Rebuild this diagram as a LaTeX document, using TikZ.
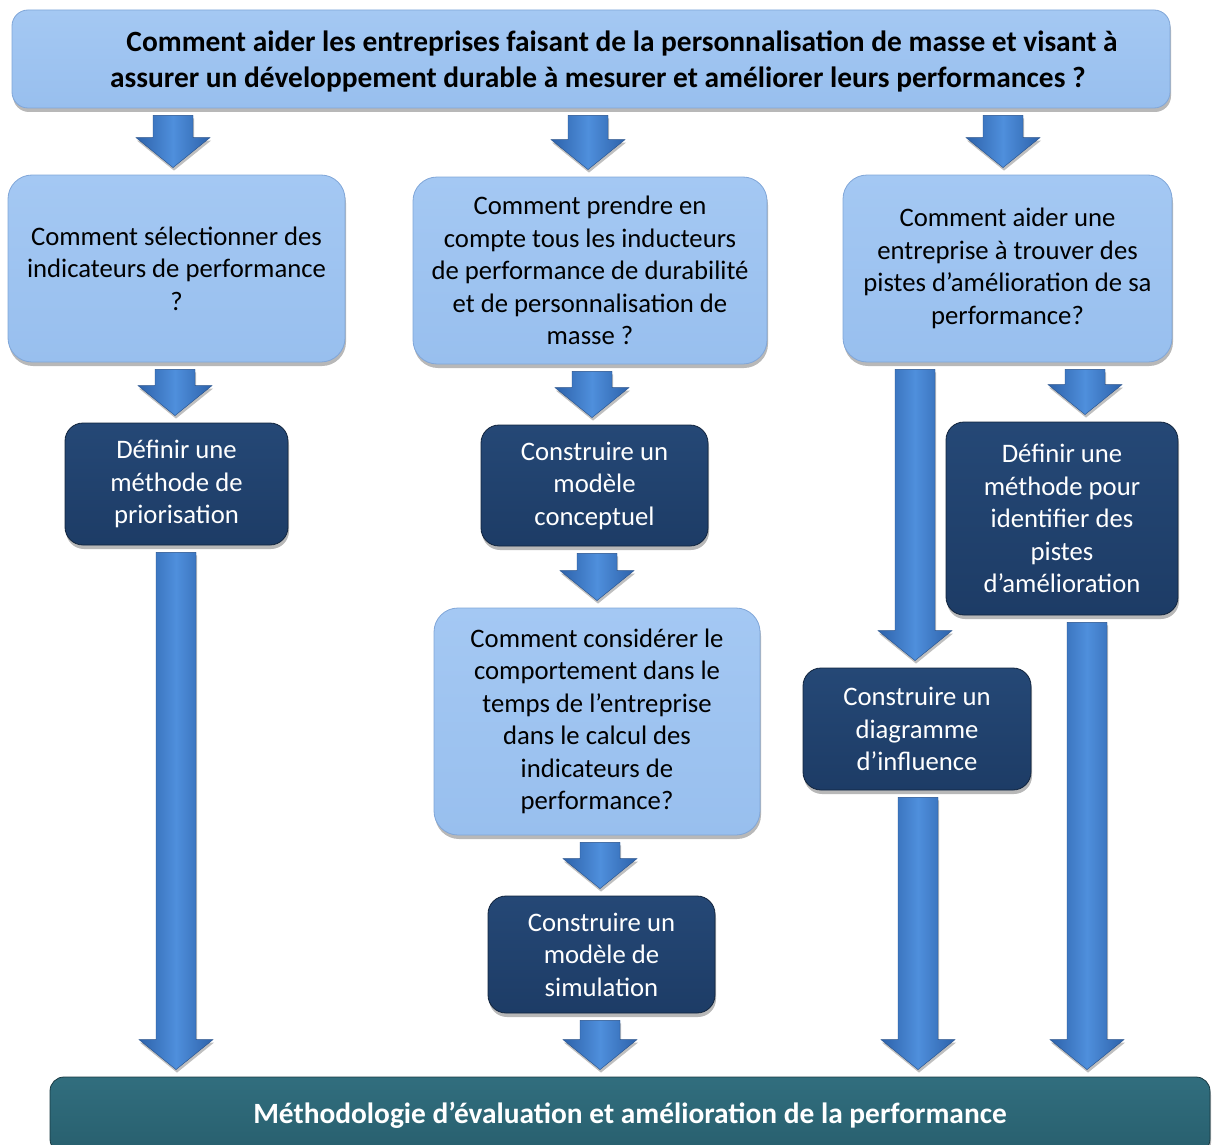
\documentclass[tikz,border=0pt]{standalone}
\usepackage{fontspec}
\setmainfont{Carlito}
\usetikzlibrary{shadows,calc}
\definecolor{lightbox}{HTML}{98BFEE}
\definecolor{lightboxtop}{HTML}{A4C8F3}
\definecolor{lightborder}{HTML}{80A6D8}
\definecolor{darkbox}{HTML}{1D3C66}
\definecolor{darkboxtop}{HTML}{254876}
\definecolor{tealbox}{HTML}{285F6E}
\definecolor{tealtop}{HTML}{316E7E}
\definecolor{arrowmid}{HTML}{4F8FDC}
\definecolor{arrowedge}{HTML}{2D62AA}
\tikzset{
  boxshadow/.style={drop shadow={shadow xshift=1pt, shadow yshift=-4pt, opacity=0.28, fill=black}},
  lightq/.style={rounded corners=24pt, draw=lightborder, line width=0.8pt,
    top color=lightboxtop, bottom color=lightbox, boxshadow, align=center,
    font=\fontsize{26.7}{32.5}\selectfont, text=black, inner sep=0pt},
  darkq/.style={rounded corners=18pt, draw=darkbox!60!black, line width=0.8pt,
    top color=darkboxtop, bottom color=darkbox, boxshadow, align=center,
    font=\fontsize{26.7}{32.5}\selectfont, text=white, inner sep=0pt},
  tealq/.style={rounded corners=14pt, draw=tealbox!60!black, line width=0.8pt,
    top color=tealtop, bottom color=tealbox, boxshadow, align=center,
    font=\bfseries\fontsize{29.4}{34}\selectfont, text=white, inner sep=0pt},
  blockarrow/.style={draw=arrowedge!80!black, line width=0.4pt,
    left color=arrowedge, right color=arrowedge, middle color=arrowmid,
    drop shadow={shadow xshift=1pt, shadow yshift=-3pt, opacity=0.25, fill=black}}
}
\newcommand\blkarrow[3]{%
  \path[blockarrow] let \p1=(#2.south), \p2=(#3.north) in
    ({#1pt-20pt},{\y1-7pt}) -- ({#1pt+20pt},{\y1-7pt}) --
    ({#1pt+20pt},{\y2+37pt}) -- ({#1pt+37pt},{\y2+37pt}) --
    ({#1pt},{\y2+7pt}) -- ({#1pt-37pt},{\y2+37pt}) --
    ({#1pt-20pt},{\y2+37pt}) -- cycle;
}
\begin{document}
\begin{tikzpicture}[x=1pt,y=-1pt]
\useasboundingbox (0,0) rectangle (1212,1145);
% top question
\node[lightq, rounded corners=16pt, minimum width=1158pt, minimum height=98pt] (top) at (591,59) {};
\node[font=\bfseries\fontsize{29.4}{36}\selectfont, align=center, text=black, inner sep=0pt] (toptext) at (610,61)
  {\hspace*{24pt}Comment aider les entreprises faisant de la personnalisation de masse et visant à\\
   assurer un développement durable à mesurer et améliorer leurs performances ?\hspace*{24pt}};
% sub-questions
\node[lightq, minimum width=337pt, minimum height=187pt] (A1) at (176.5,268.5)
  {Comment sélectionner des\\indicateurs de performance\\?};
\node[lightq, minimum width=354pt, minimum height=187pt] (B1) at (590,270.5)
  {Comment prendre en\\compte tous les inducteurs\\de performance de durabilité\\et de personnalisation de\\masse ?};
\node[lightq, minimum width=329pt, minimum height=187pt] (C1) at (1007.5,268.5)
  {Comment aider une\\entreprise à trouver des\\pistes d’amélioration de sa\\performance?};
% answers
\node[darkq, minimum width=223pt, minimum height=122pt] (A2) at (176.5,484)
  {\raisebox{-2pt}{\parbox{220pt}{\centering Définir une\\méthode de\\priorisation}}};
\node[darkq, minimum width=227pt, minimum height=121pt] (B2) at (594.5,485.5)
  {\raisebox{-2pt}{\parbox{220pt}{\centering Construire un\\modèle\\conceptuel}}};
\node[lightq, minimum width=326pt, minimum height=227pt] (B3) at (597,721.5)
  {Comment considérer le\\comportement dans le\\temps de l’entreprise\\dans le calcul des\\indicateurs de\\performance?};
\node[darkq, minimum width=227pt, minimum height=117pt] (B4) at (601.5,954.5)
  {\raisebox{-2pt}{\parbox{220pt}{\centering Construire un\\modèle de\\simulation}}};
\node[darkq, minimum width=228pt, minimum height=122pt] (C2) at (917,729)
  {\raisebox{-2pt}{\parbox{220pt}{\centering Construire un\\diagramme\\d’influence}}};
\node[darkq, minimum width=232pt, minimum height=193pt] (C3) at (1062,518.5)
  {\raisebox{-2pt}{\parbox{228pt}{\centering Définir une\\méthode pour\\identifier des\\pistes\\d’amélioration}}};
% result
\node[tealq, minimum width=1160pt, minimum height=76pt] (bottom) at (630,1115)
  {\raisebox{2pt}{Méthodologie d’évaluation et amélioration de la performance}};
% arrows
\blkarrow{173}{top}{A1}
\blkarrow{588}{top}{B1}
\blkarrow{1003}{top}{C1}
\blkarrow{175}{A1}{A2}
\blkarrow{592}{B1}{B2}
\blkarrow{915}{C1}{C2}
\blkarrow{1085}{C1}{C3}
\blkarrow{176}{A2}{bottom}
\blkarrow{597}{B2}{B3}
\blkarrow{600}{B3}{B4}
\blkarrow{600}{B4}{bottom}
\blkarrow{918}{C2}{bottom}
\blkarrow{1087}{C3}{bottom}
\end{tikzpicture}
\end{document}
